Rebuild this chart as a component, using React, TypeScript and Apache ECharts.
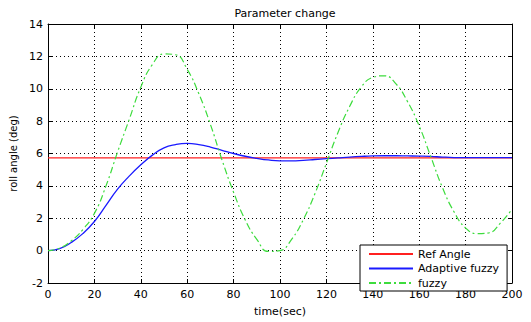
import React, { useEffect, useRef } from "react";
import * as echarts from "echarts";

const timeSec = [0, 5, 10, 15, 20, 25, 30, 35, 40, 45, 50, 55, 60, 65, 70, 75, 80, 85, 90, 95, 100, 105, 110, 115, 120, 125, 130, 135, 140, 145, 150, 155, 160, 165, 170, 175, 180, 185, 190, 195, 200];
const adaptiveFuzzy = [0, 0.12, 0.5, 1.05, 1.8, 2.8, 3.8, 4.6, 5.3, 5.9, 6.35, 6.55, 6.62, 6.55, 6.4, 6.2, 6.0, 5.83, 5.7, 5.6, 5.55, 5.55, 5.58, 5.63, 5.68, 5.73, 5.78, 5.82, 5.85, 5.86, 5.86, 5.85, 5.84, 5.82, 5.78, 5.75, 5.74, 5.74, 5.74, 5.74, 5.74];
const fuzzy = [0, 0.15, 0.6, 1.3, 2.3, 4.0, 6.1, 8.1, 10.1, 11.5, 12.15, 12.1, 11.2, 9.7, 7.8, 5.6, 3.6, 1.9, 0.7, -0.05, 0.0, 0.7, 1.9, 3.5, 5.4, 7.3, 8.9, 10.1, 10.7, 10.8, 10.3, 9.2, 7.7, 5.8, 3.9, 2.4, 1.4, 1.05, 1.1, 1.7, 2.55];
const refAngleTime = [0, 200];
const refAngle = [5.73, 5.73];

const FONT = "DejaVu Sans";

export default function App() {
  const ref = useRef<HTMLDivElement>(null);
  useEffect(() => {
    const chart = echarts.init(ref.current!, null, { renderer: "svg" });
    const axisCommon = {
      type: "value",
      axisLine: { show: true, onZero: false, lineStyle: { color: "#000", width: 1 } },
      axisTick: { show: true, inside: true, length: 4, lineStyle: { color: "#000" } },
    };
    chart.setOption({
      animation: false,
      backgroundColor: "#fff",
      title: {
        text: "Parameter change",
        left: 280,
        textAlign: "center",
        top: 3,
        textStyle: { fontFamily: FONT, fontSize: 11, fontWeight: "normal", color: "#000" },
      },
      grid: { left: 48, right: 19, top: 24, bottom: 30, show: false },
      xAxis: [
        {
          ...axisCommon,
          min: 0,
          max: 200,
          interval: 20,
          name: "time(sec)",
          nameLocation: "middle",
          nameGap: 23,
          nameTextStyle: { fontFamily: FONT, fontSize: 11, color: "#000" },
          axisLabel: { fontFamily: FONT, fontSize: 11, color: "#000", margin: 6 },
          splitLine: { show: true, lineStyle: { color: "#000", type: [1, 3], width: 1 } },
        },
        {
          ...axisCommon,
          position: "top",
          min: 0,
          max: 200,
          interval: 20,
          axisLabel: { show: false },
          splitLine: { show: false },
        },
      ],
      yAxis: [
        {
          ...axisCommon,
          min: -2,
          max: 14,
          interval: 2,
          name: "roll angle (deg)",
          nameLocation: "middle",
          nameGap: 30,
          nameTextStyle: { fontFamily: FONT, fontSize: 10, color: "#000" },
          axisLabel: { fontFamily: FONT, fontSize: 11, color: "#000", margin: 5 },
          splitLine: { show: true, lineStyle: { color: "#000", type: [1, 3], width: 1 } },
        },
        {
          ...axisCommon,
          position: "right",
          min: -2,
          max: 14,
          interval: 2,
          axisLabel: { show: false },
          splitLine: { show: false },
        },
      ],
      legend: {
        orient: "vertical",
        left: 360,
        top: 245,
        padding: [3, 8, 2, 8],
        itemWidth: 44,
        itemHeight: 10,
        itemGap: 2.5,
        backgroundColor: "#fff",
        borderColor: "#000",
        borderWidth: 1,
        borderRadius: 0,
        itemStyle: { opacity: 0 },
        textStyle: { fontFamily: FONT, fontSize: 11, lineHeight: 12, color: "#000" },
        data: ["Ref Angle", "Adaptive fuzzy", "fuzzy"],
      },
      series: [
        {
          name: "Ref Angle",
          type: "line",
          symbol: "none",
          data: refAngleTime.map((t, i) => [t, refAngle[i]]),
          lineStyle: { color: "#ff2020", width: 1.2 },
          itemStyle: { color: "#ff2020" },
        },
        {
          name: "Adaptive fuzzy",
          type: "line",
          symbol: "none",
          smooth: true,
          data: timeSec.map((t, i) => [t, adaptiveFuzzy[i]]),
          lineStyle: { color: "#1a1aff", width: 1.3 },
          itemStyle: { color: "#1a1aff" },
        },
        {
          name: "fuzzy",
          type: "line",
          symbol: "none",
          smooth: true,
          data: timeSec.map((t, i) => [t, fuzzy[i]]),
          lineStyle: { color: "#3ddc3d", width: 1.2, type: [7, 3, 2, 3] },
          itemStyle: { color: "#3ddc3d" },
        },
      ],
    });
    return () => chart.dispose();
  }, []);
  return <div ref={ref} style={{ width: 531, height: 322, position: "fixed", left: 0, top: 0 }} />;
}
